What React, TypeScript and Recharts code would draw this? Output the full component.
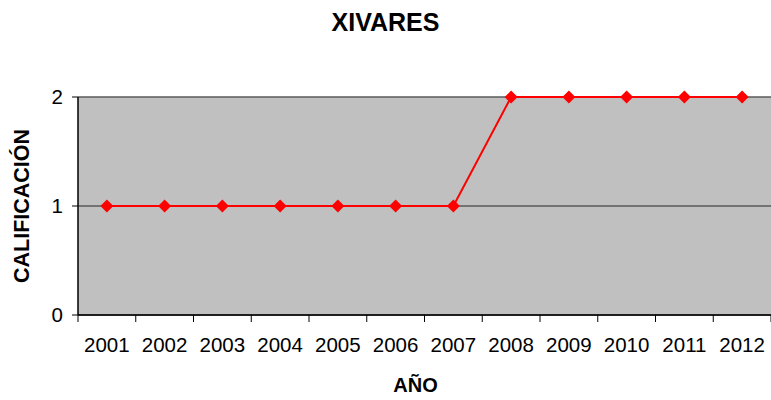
import { LineChart, Line, XAxis, YAxis, CartesianGrid, Label } from "recharts";

const years = ["2001", "2002", "2003", "2004", "2005", "2006", "2007", "2008", "2009", "2010", "2011", "2012"];
const scores = [1, 1, 1, 1, 1, 1, 1, 2, 2, 2, 2, 2];
const yTicks = [0, 1, 2];

const data = years.map((year, i) => ({ year, score: scores[i] }));

const font = "'Liberation Sans', Arial, sans-serif";

function Diamond(props: any) {
  const { cx, cy, index } = props;
  if (cx == null || cy == null) return null;
  const r = 6.5;
  return (
    <path
      key={`d-${index}`}
      d={`M${cx},${cy - r} L${cx + r},${cy} L${cx},${cy + r} L${cx - r},${cy} Z`}
      fill="#FF0000"
      stroke="none"
    />
  );
}

// Excel-style category tick: label in the middle of the band, tick mark on the band edges
function YearTick(props: any) {
  const { x, y, payload, width, visibleTicksCount, index } = props;
  const band = width / visibleTicksCount;
  const top = y - 22;
  const left = x - band / 2;
  return (
    <g>
      <line x1={left} y1={top} x2={left} y2={top + 7} stroke="#000" strokeWidth={1} />
      {index === visibleTicksCount - 1 && (
        <line x1={left + band} y1={top} x2={left + band} y2={top + 7} stroke="#000" strokeWidth={1} />
      )}
      <text x={x} y={y} dy="0.71em" textAnchor="middle" fontSize={20.5} fontFamily={font} fill="#000">
        {payload.value}
      </text>
    </g>
  );
}

export default function App() {
  return (
    <div style={{ position: "absolute", left: 0, top: 0, width: 771, height: 400, background: "#fff", fontFamily: font }}>
      <div
        style={{
          position: "absolute",
          top: 8,
          left: 0,
          width: 771,
          textAlign: "center",
          fontSize: 25,
          fontWeight: "bold",
          color: "#000",
        }}
      >
        XIVARES
      </div>
      <LineChart width={771} height={400} data={data} margin={{ top: 97, right: 0, left: 0, bottom: 0 }}>
        <CartesianGrid vertical={false} fill="#C0C0C0" stroke="#5a5a5a" strokeWidth={1.5} fillOpacity={1} />
        <XAxis
          dataKey="year"
          scale="band"
          height={85}
          axisLine={{ stroke: "#000", strokeWidth: 1.5 }}
          tickLine={false}
          tickSize={6}
          tickMargin={16}
          interval={0}
          tick={<YearTick />}
        >
          <Label
            content={({ viewBox }: any) => (
              <text
                x={viewBox.x + viewBox.width / 2 - 9}
                y={viewBox.y + 77}
                textAnchor="middle"
                fontSize={20}
                fontWeight="bold"
                fontFamily={font}
                fill="#000"
              >
                AÑO
              </text>
            )}
          />
        </XAxis>
        <YAxis
          domain={[0, 2]}
          ticks={yTicks}
          width={78}
          axisLine={{ stroke: "#000", strokeWidth: 1.5 }}
          tickLine={{ stroke: "#000" }}
          tickSize={6}
          tickMargin={9}
          tick={{ fontSize: 20.5, fill: "#000", fontFamily: font }}
        >
          <Label
            content={({ viewBox }: any) => (
              <text
                x={29}
                y={viewBox.y + viewBox.height / 2}
                transform={`rotate(-90, 29, ${viewBox.y + viewBox.height / 2})`}
                textAnchor="middle"
                fontSize={21.5}
                fontWeight="bold"
                fontFamily={font}
                fill="#000"
              >
                CALIFICACIÓN
              </text>
            )}
          />
        </YAxis>
        <Line
          type="linear"
          dataKey="score"
          stroke="#FF0000"
          strokeWidth={2}
          dot={Diamond}
          activeDot={false}
          isAnimationActive={false}
        />
      </LineChart>
    </div>
  );
}
